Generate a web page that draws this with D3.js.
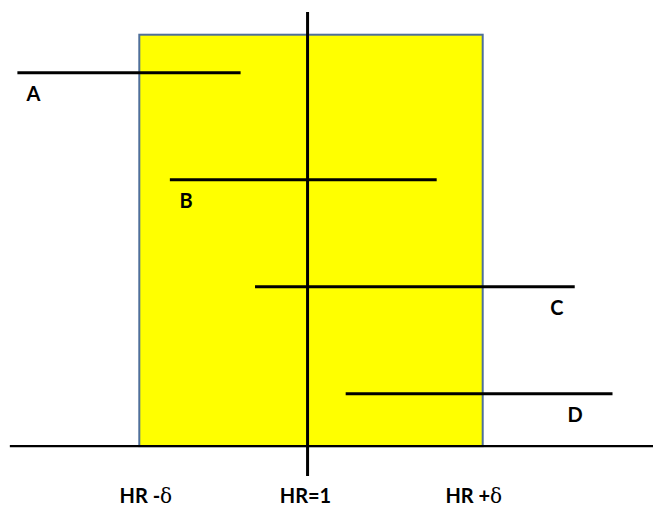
<!DOCTYPE html>
<html><head><meta charset="utf-8">
<script src="https://cdn.jsdelivr.net/npm/d3@7/dist/d3.min.js"></script>
<style>body{margin:0;background:#fff}svg{display:block}text{font-family:Lato,"Open Sans",sans-serif;font-weight:bold;fill:#000}</style>
</head><body><svg id="c" width="653" height="507"></svg>
<script>
// Data (units: equivalence margin span = 0..100, HR=1 at 49)
const studies = ["A", "B", "C", "D"];
const ciLow  = [-35.5, 8.9, 33.7, 60.1];
const ciHigh = [29.5, 86.6, 126.8, 137.8];
const labelAt = [-30.8, 13.6, 121.6, 126.9];
const marginLow = 0, marginHigh = 100, nullValue = 49;
const tickLabels = ["HR -", "HR=1", "HR +"];
const tickValues = [1.9, 48.4, 97.4];

const svg = d3.select("#c");
const x = d3.scaleLinear().domain([0, 100]).range([139.3, 482.7]);
const y = d3.scaleLinear().domain([0, 3]).range([72.7, 393.7]);

// equivalence region
svg.append("rect")
  .attr("x", x(marginLow)).attr("y", y(-0.355))
  .attr("width", x(marginHigh) - x(marginLow)).attr("height", y(3.49) - y(-0.355))
  .attr("fill", "#ffff00").attr("stroke", "#4f6f9a").attr("stroke-width", 2);

// axis
svg.append("line").attr("x1", x(-37.7)).attr("x2", x(149.6))
  .attr("y1", y(3.49)).attr("y2", y(3.49)).attr("stroke", "#000").attr("stroke-width", 2.2);

// null line
svg.append("line").attr("x1", x(nullValue)).attr("x2", x(nullValue))
  .attr("y1", y(-0.567)).attr("y2", y(3.77)).attr("stroke", "#000").attr("stroke-width", 3);

// CI lines
svg.selectAll(".ci").data(studies).enter().append("line")
  .attr("x1", (d, i) => x(ciLow[i])).attr("x2", (d, i) => x(ciHigh[i]))
  .attr("y1", (d, i) => y(i)).attr("y2", (d, i) => y(i))
  .attr("stroke", "#000").attr("stroke-width", 3);

svg.selectAll(".lab").data(studies).enter().append("text")
  .attr("x", (d, i) => x(labelAt[i])).attr("y", (d, i) => y(i) + 28)
  .attr("text-anchor", "middle").attr("font-size", 20).text(d => d);

// bottom labels
const tl = svg.selectAll(".tick").data(tickLabels).enter().append("text")
  .attr("x", (d, i) => x(tickValues[i])).attr("y", 503)
  .attr("text-anchor", "middle").attr("font-size", 20);
tl.append("tspan").text(d => d);
tl.filter((d, i) => i !== 1).append("tspan")
  .style("font-family", "'DejaVu Serif',serif").style("font-weight", "normal").text("δ");
</script></body></html>
